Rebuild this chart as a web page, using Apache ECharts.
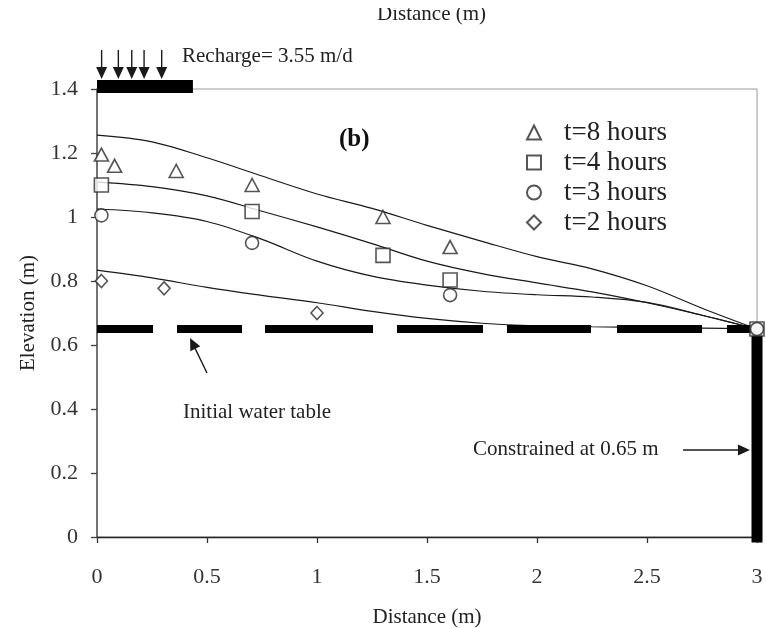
<!DOCTYPE html>
<html>
<head>
<meta charset="utf-8">
<title>Water table rise under recharge</title>
<script src="https://cdn.jsdelivr.net/npm/echarts@6/dist/echarts.min.js"></script>
<style>
  html, body { margin: 0; padding: 0; background: #fff; }
  #chart { width: 766px; height: 628px; }
</style>
</head>
<body>
<div id="chart"></div>
<script>
// Distance axis ticks (m) and elevation axis ticks (m)
const xTicks = [0, 0.5, 1, 1.5, 2, 2.5, 3];
const yTicks = [0, 0.2, 0.4, 0.6, 0.8, 1, 1.2, 1.4];

// Model profiles: distance (m) and simulated water-table elevation (m)
const modelDistance = [0, 0.25, 0.5, 0.75, 1, 1.25, 1.5, 1.75, 2, 2.25, 2.5, 2.75, 3];
const model8h = [1.256, 1.235, 1.185, 1.128, 1.072, 1.027, 0.974, 0.924, 0.876, 0.838, 0.785, 0.715, 0.65];
const model4h = [1.109, 1.095, 1.066, 1.018, 0.969, 0.917, 0.862, 0.823, 0.794, 0.766, 0.732, 0.693, 0.65];
const model3h = [1.025, 1.013, 0.986, 0.930, 0.862, 0.815, 0.787, 0.768, 0.757, 0.750, 0.733, 0.693, 0.65];
const model2h = [0.834, 0.810, 0.780, 0.755, 0.732, 0.705, 0.683, 0.668, 0.660, 0.657, 0.655, 0.653, 0.65];

// Measured elevations: [distance (m), elevation (m)]
const obs8h = [[0.02, 1.195], [0.08, 1.16], [0.36, 1.144], [0.705, 1.10], [1.30, 1.0], [1.605, 0.906]];
const obs4h = [[0.02, 1.10], [0.705, 1.017], [1.30, 0.88], [1.605, 0.803], [3, 0.65]];
const obs3h = [[0.02, 1.005], [0.705, 0.919], [1.605, 0.756], [3, 0.65]];
const obs2h = [[0.02, 0.80], [0.305, 0.777], [1.0, 0.70]];

// Boundary conditions
const initialWaterTable = [[0, 0.65], [3, 0.65]];
const constrainedBoundary = [[3, 0], [3, 0.65]];
const rechargeZone = [[0, 1.408], [0.436, 1.408]];

// Annotation arrows in data units: [fromX, fromY, toX, toY]
const rechargeArrows = [
  [0.021, 1.522, 0.021, 1.431],
  [0.097, 1.522, 0.097, 1.431],
  [0.158, 1.522, 0.158, 1.431],
  [0.214, 1.522, 0.214, 1.431],
  [0.294, 1.522, 0.294, 1.431]
];
const noteArrows = [
  [0.50, 0.5125, 0.423, 0.622],
  [2.664, 0.272, 2.968, 0.272]
];

const SERIF = "'Liberation Serif', 'Times New Roman', serif";
const INK = '#1a1a1a';

function zip(xs, ys) { return xs.map((x, i) => [x, ys[i]]); }

function renderArrow(params, api) {
  const p1 = api.coord([api.value(0), api.value(1)]);
  const p2 = api.coord([api.value(2), api.value(3)]);
  const dx = p2[0] - p1[0], dy = p2[1] - p1[1];
  const len = Math.hypot(dx, dy) || 1;
  const ux = dx / len, uy = dy / len;
  const hl = 12, hw = 5.5;
  const bx = p2[0] - ux * hl, by = p2[1] - uy * hl;
  return {
    type: 'group',
    children: [
      { type: 'line', shape: { x1: p1[0], y1: p1[1], x2: bx + ux, y2: by + uy },
        style: { stroke: INK, lineWidth: 1.4 } },
      { type: 'polygon',
        shape: { points: [[p2[0], p2[1]], [bx - uy * hw, by + ux * hw], [bx + uy * hw, by - ux * hw]] },
        style: { fill: INK } }
    ]
  };
}

const curveStyle = { color: INK, width: 1.2 };
function modelSeries(name, values) {
  return {
    name: name, type: 'line', data: zip(modelDistance, values),
    smooth: 0.35, symbol: 'none', lineStyle: curveStyle, z: 3, silent: true
  };
}

const markerStyle = { color: '#fff', borderColor: '#2a2a2a', borderWidth: 1.6 };
function obsSeries(name, data, symbol, size) {
  return {
    name: name, type: 'scatter', data: data, symbol: symbol, symbolSize: size,
    itemStyle: markerStyle, z: 5, silent: true
  };
}

const chart = echarts.init(document.getElementById('chart'), null, { renderer: 'canvas' });

chart.setOption({
  backgroundColor: '#fff',
  animation: false,
  grid: {
    left: 97, right: 9, top: 89, bottom: 91,
    containLabel: false, outerBoundsMode: 'none',
    show: true, borderColor: '#9a9a9a', borderWidth: 1, backgroundColor: 'transparent'
  },
  xAxis: {
    type: 'value', min: xTicks[0], max: xTicks[xTicks.length - 1], interval: 0.5,
    name: 'Distance (m)', nameLocation: 'middle', nameGap: 70,
    nameTextStyle: { fontFamily: SERIF, fontSize: 21, color: '#222' },
    axisLine: { show: true, onZero: false, lineStyle: { color: '#222', width: 1.3 } },
    axisTick: { show: true, inside: false, length: 6, lineStyle: { color: '#333', width: 1.3 } },
    axisLabel: { fontFamily: SERIF, fontSize: 22, color: '#333', margin: 29 },
    splitLine: { show: false }
  },
  yAxis: {
    type: 'value', min: yTicks[0], max: yTicks[yTicks.length - 1], interval: 0.2,
    name: 'Elevation (m)', nameLocation: 'middle', nameGap: 58, nameRotate: 90,
    nameTextStyle: { fontFamily: SERIF, fontSize: 21, color: '#222' },
    axisLine: { show: true, onZero: false, lineStyle: { color: '#555', width: 1.5 } },
    axisTick: { show: true, inside: false, length: 6, lineStyle: { color: '#444', width: 1.3 } },
    axisLabel: { fontFamily: SERIF, fontSize: 22, color: '#333', margin: 19,
      formatter: v => String(Math.round(v * 10) / 10) },
    splitLine: { show: false }
  },
  legend: {
    orient: 'vertical', left: 521, top: 114,
    data: ['t=8 hours', 't=4 hours', 't=3 hours', 't=2 hours'],
    itemWidth: 14, itemHeight: 14, itemGap: 3,
    selectedMode: false,
    textStyle: { fontFamily: SERIF, fontSize: 27, lineHeight: 27, color: '#222', padding: [0, 0, 0, 18] }
  },
  graphic: [
    { type: 'text', left: 182, top: 46, z: 10,
      style: { text: 'Recharge= 3.55 m/d', font: '21px ' + SERIF, fill: '#222' } },
    { type: 'text', left: 339, top: 127, z: 10,
      style: { text: '(b)', font: 'bold 25px ' + SERIF, fill: '#111' } },
    { type: 'text', left: 183, top: 402, z: 10,
      style: { text: 'Initial water table', font: '21px ' + SERIF, fill: '#222' } },
    { type: 'text', left: 473, top: 439, z: 10,
      style: { text: 'Constrained at 0.65 m', font: '21px ' + SERIF, fill: '#222' } },
    { type: 'text', left: 377, top: 4, z: 10,
      style: { text: 'Distance (m)', font: '21px ' + SERIF, fill: '#222' } },
    { type: 'rect', left: 360, top: 0, z: 11,
      shape: { width: 150, height: 8 }, style: { fill: '#fff' } }
  ],
  series: [
    {
      name: 'Initial water table', type: 'line', data: initialWaterTable,
      symbol: 'none', silent: true, z: 4,
      lineStyle: { color: '#000', width: 8, cap: 'butt',
        type: [56, 24, 65, 23, 108, 24, 86, 24, 84, 26, 85, 25, 40, 10] }
    },
    {
      name: 'Constrained boundary', type: 'line', data: constrainedBoundary,
      symbol: 'none', silent: true, clip: false, z: 4,
      lineStyle: { color: '#000', width: 11, cap: 'square' }
    },
    {
      name: 'Recharge zone', type: 'line', data: rechargeZone,
      symbol: 'none', silent: true, clip: false, z: 4,
      lineStyle: { color: '#000', width: 13, cap: 'butt' }
    },
    modelSeries('model 8 h', model8h),
    modelSeries('model 4 h', model4h),
    modelSeries('model 3 h', model3h),
    modelSeries('model 2 h', model2h),
    obsSeries('t=8 hours', obs8h, 'triangle', [14, 13]),
    obsSeries('t=4 hours', obs4h, 'rect', [14, 14]),
    obsSeries('t=3 hours', obs3h, 'circle', 13),
    obsSeries('t=2 hours', obs2h, 'diamond', [12, 13]),
    {
      name: 'recharge arrows', type: 'custom', data: rechargeArrows,
      renderItem: renderArrow, clip: false, silent: true, z: 6,
      encode: { x: [0, 2], y: [1, 3] }
    },
    {
      name: 'note arrows', type: 'custom', data: noteArrows,
      renderItem: renderArrow, clip: false, silent: true, z: 6,
      encode: { x: [0, 2], y: [1, 3] }
    }
  ]
});
</script>
</body>
</html>
